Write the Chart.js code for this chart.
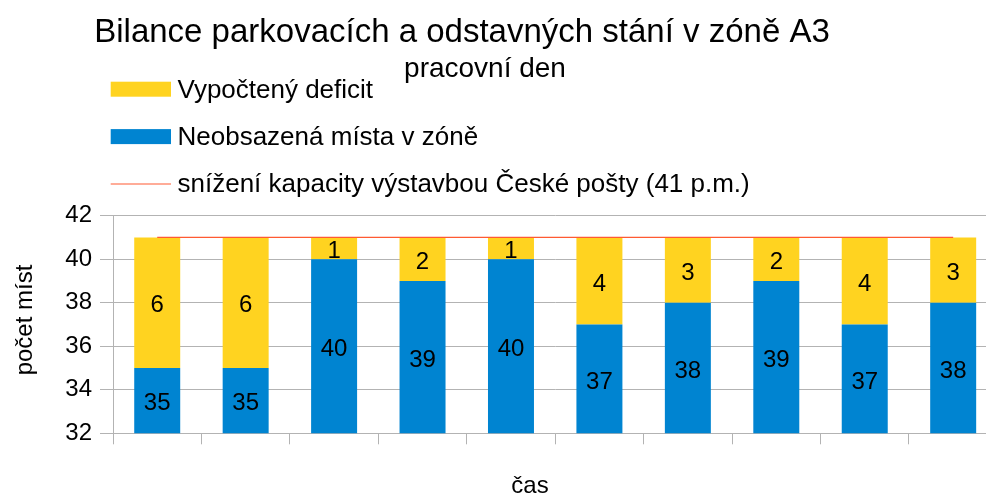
<!DOCTYPE html>
<html><head><meta charset="utf-8">
<script src="https://cdn.jsdelivr.net/npm/chart.js@4"></script>
<style>html,body{margin:0;padding:0;overflow:hidden;background:#fff}#wrap{width:1000px;height:496px}</style>
</head><body><div id="wrap"><canvas id="c" width="1000" height="496"></canvas></div>
<script>
const titleText = "Bilance parkovacích a odstavných stání v zóně A3";
const subtitleText = "pracovní den";
const xAxisTitle = "čas";
const yAxisTitle = "počet míst";
const categories = ["", "", "", "", "", "", "", "", "", ""];
const deficitLabel = "Vypočtený deficit";
const freeLabel = "Neobsazená místa v zóně";
const capacityLabel = "snížení kapacity výstavbou České pošty (41 p.m.)";
const freeSpaces = [35, 35, 40, 39, 40, 37, 38, 39, 37, 38];
const deficit = [6, 6, 1, 2, 1, 4, 3, 2, 4, 3];
const capacity = [41, 41, 41, 41, 41, 41, 41, 41, 41, 41];
const yTicks = [32, 34, 36, 38, 40, 42];

const FONT = "'Liberation Sans', Arial, sans-serif";
const YELLOW = "#ffd320", BLUE = "#0084d1", RED = "#ff5a32", GRID = "#b3b3b3";

const decor = {
  id: 'decor',
  afterDraw(chart) {
    const ctx = chart.ctx;
    ctx.save();
    ctx.fillStyle = '#000';
    ctx.textBaseline = 'alphabetic';
    ctx.textAlign = 'center';
    ctx.font = "33px " + FONT;
    ctx.fillText(titleText, 462, 41.7);
    ctx.font = "28px " + FONT;
    ctx.fillText(subtitleText, 485, 76.7);
    // legend
    const ds = chart.data.datasets;
    const items = [ds[1], ds[0], ds[2]];
    ctx.font = "26px " + FONT;
    ctx.textAlign = 'left';
    items.forEach((d, i) => {
      const cy = 89.2 + i * 47.4;
      if (d.type === 'line') {
        ctx.strokeStyle = d.borderColor;
        ctx.lineWidth = 1.2;
        ctx.beginPath(); ctx.moveTo(110.7, cy); ctx.lineTo(171, cy); ctx.stroke();
      } else {
        ctx.fillStyle = d.backgroundColor;
        ctx.fillRect(110.7, cy - 7.5, 60.3, 15);
      }
      ctx.fillStyle = '#000';
      ctx.fillText(d.label, 177.5, cy + 8.3);
    });
    // axis titles
    ctx.font = "24px " + FONT;
    ctx.textAlign = 'center';
    ctx.fillText(xAxisTitle, 530, 493);
    ctx.translate(32, 320);
    ctx.rotate(-Math.PI / 2);
    ctx.fillText(yAxisTitle, 0, 0);
    ctx.restore();
  }
};

const barLabels = {
  id: 'barLabels',
  afterDatasetsDraw(chart) {
    const ctx = chart.ctx, area = chart.chartArea;
    ctx.save();
    ctx.font = "24px " + FONT;
    ctx.fillStyle = '#000';
    ctx.textAlign = 'center';
    ctx.textBaseline = 'middle';
    chart.data.datasets.forEach((d, di) => {
      if (d.type === 'line') return;
      const meta = chart.getDatasetMeta(di);
      meta.data.forEach((el, i) => {
        const top = Math.max(Math.min(el.y, el.base), area.top);
        const bot = Math.min(Math.max(el.y, el.base), area.bottom);
        ctx.fillText(String(d.data[i]), el.x, (top + bot) / 2 + 3);
      });
    });
    ctx.restore();
  }
};

new Chart(document.getElementById('c'), {
  data: {
    labels: categories,
    datasets: [
      { type: 'bar', label: freeLabel, data: freeSpaces, backgroundColor: BLUE, order: 1,
        categoryPercentage: 1, barPercentage: 0.52 },
      { type: 'bar', label: deficitLabel, data: deficit, backgroundColor: YELLOW, order: 1,
        categoryPercentage: 1, barPercentage: 0.52 },
      { type: 'line', label: capacityLabel, data: capacity, borderColor: RED, borderWidth: 1.2,
        pointRadius: 0, fill: false, order: 0, tension: 0 }
    ]
  },
  options: {
    responsive: false,
    animation: false,
    devicePixelRatio: 1,
    layout: { padding: { top: 215.7, left: 0, right: 2.6, bottom: 0 } },
    plugins: { legend: { display: false }, title: { display: false }, tooltip: { enabled: false } },
    scales: {
      x: {
        stacked: true,
        grid: { offset: true, drawOnChartArea: false, drawTicks: true, tickLength: 11, color: GRID, lineWidth: 1 },
        border: { display: true, color: GRID, width: 1 },
        ticks: { display: false },
        afterFit(s) { s.height = 62.7; }
      },
      y: {
        stacked: true,
        min: yTicks[0], max: yTicks[yTicks.length - 1],
        afterBuildTicks(s) { s.ticks = yTicks.map(v => ({ value: v })); },
        grid: { color: GRID, lineWidth: 1, tickLength: 13 },
        border: { display: true, color: GRID, width: 1 },
        ticks: { font: { family: FONT, size: 24 }, color: '#000', padding: 8 },
        afterFit(s) { s.width = 113; }
      }
    }
  },
  plugins: [decor, barLabels]
});
</script></body></html>
